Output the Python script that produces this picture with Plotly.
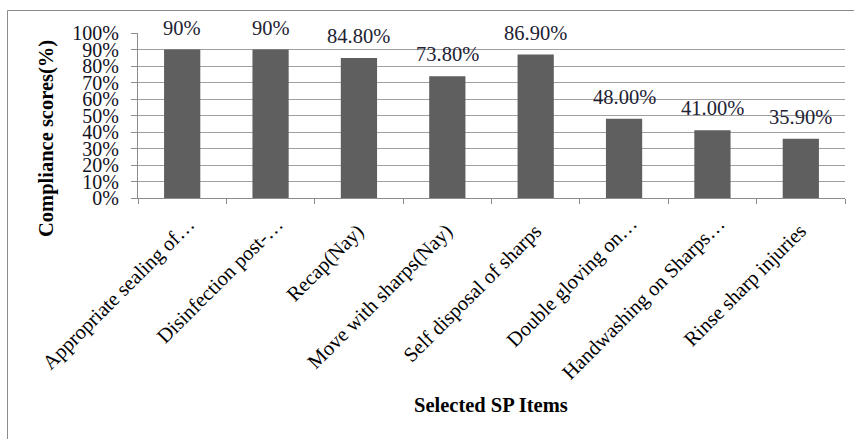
import plotly.graph_objects as go

categories = [
    "Appropriate sealing of…",
    "Disinfection post-…",
    "Recap(Nay)",
    "Move with sharps(Nay)",
    "Self disposal of sharps",
    "Double gloving on…",
    "Handwashing on Sharps…",
    "Rinse sharp injuries",
]
values = [90, 90, 84.8, 73.8, 86.9, 48.0, 41.0, 35.9]
value_labels = ["90%", "90%", "84.80%", "73.80%", "86.90%", "48.00%", "41.00%", "35.90%"]
y_ticks = list(range(0, 101, 10))
y_tick_labels = [f"{v}%" for v in y_ticks]

FONT = "'Liberation Serif', 'Times New Roman', 'DejaVu Serif', serif"
W, H = 854, 439
L, R, T, B = 138, 9, 33, 241
pw, ph = W - L - R, H - T - B

fig = go.Figure(go.Bar(
    x=categories, y=values,
    marker=dict(color="#5f5f5f", line=dict(width=0)),
    width=0.41,
))

# value labels above bars
for c, v, t in zip(categories, values, value_labels):
    fig.add_annotation(x=c, y=v, text=t, showarrow=False, yanchor="bottom",
                       xanchor="center", yshift=9,
                       font=dict(family=FONT, size=20.5, color="#222233"))

# rotated category labels (truncated ones protrude a little further, as in the original)
for c in categories:
    extra = 7 if c.endswith("…") else 0
    fig.add_annotation(x=c, y=0, text=c, showarrow=False, textangle=-45,
                       xanchor="right", yanchor="top",
                       xshift=13 + extra, yshift=-19 + extra,
                       font=dict(family=FONT, size=20.5, color="#000000"))

fig.add_annotation(xref="paper", yref="paper",
                   x=(46 - L) / pw, y=1 - (139 - T) / ph,
                   xanchor="center", yanchor="middle",
                   text="<b>Compliance scores(%)</b>", textangle=-90, showarrow=False,
                   font=dict(family=FONT, size=20.5, color="#000000"))
fig.add_annotation(xref="paper", yref="paper",
                   x=(491 - L) / pw, y=1 - (405 - T) / ph,
                   xanchor="center", yanchor="middle",
                   text="<b>Selected SP Items</b>", showarrow=False,
                   font=dict(family=FONT, size=20.5, color="#000000"))

fig.add_shape(type="rect", xref="paper", yref="paper",
              x0=(7.5 - L) / pw, x1=(W + 20 - L) / pw,
              y0=1 - (H + 20 - T) / ph, y1=1 + (T - 10.5) / ph,
              line=dict(color="#8c8c8c", width=1), layer="below")

fig.update_layout(
    width=W, height=H,
    margin=dict(l=L, r=R, t=T, b=B, pad=0),
    paper_bgcolor="white", plot_bgcolor="white",
    showlegend=False,
    font=dict(family=FONT, size=20, color="#000000"),
)
fig.update_xaxes(
    type="category", range=[-0.5, len(categories) - 0.5], autorange=False,
    tickson="boundaries", ticks="outside", ticklen=5,
    tickcolor="#8c8c8c", showline=True, linecolor="#8c8c8c", linewidth=1,
    showgrid=False, showticklabels=False,
)
fig.update_yaxes(
    range=[0, 100], autorange=False, tickvals=y_ticks, ticktext=y_tick_labels,
    ticks="outside", ticklen=6, tickcolor="#8c8c8c",
    showline=True, linecolor="#8c8c8c", linewidth=1,
    showgrid=True, gridcolor="#a0a0a0", gridwidth=1,
    tickfont=dict(family=FONT, size=20, color="#111122"),
    ticklabelstandoff=8, zeroline=False,
)

fig.write_html("out.html")
